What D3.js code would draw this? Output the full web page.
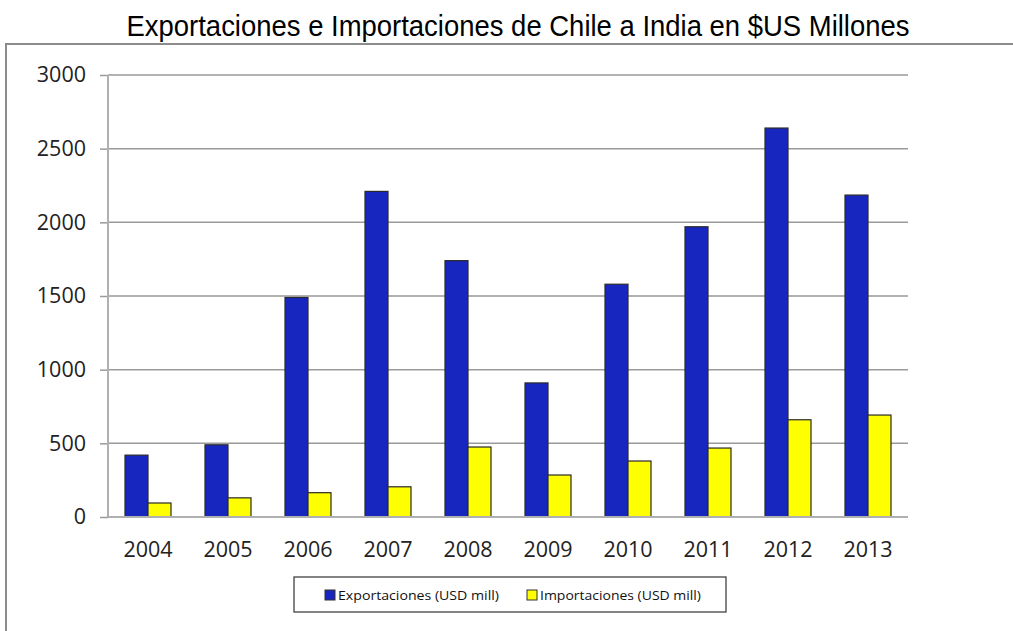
<!DOCTYPE html>
<html>
<head>
<meta charset="utf-8">
<script src="https://cdn.jsdelivr.net/npm/d3@7"></script>
<style>
	body { margin: 0; background: #fff; }
	svg { display: block; }
</style>
</head>
<body>
<svg id="chart" width="1013" height="631"></svg>
<script>

// data
var years = ["2004", "2005", "2006", "2007", "2008", "2009", "2010", "2011", "2012", "2013"];
var exportaciones = [420, 490, 1490, 2210, 1740, 910, 1580, 1970, 2640, 2185];
var importaciones = [95, 130, 165, 205, 475, 285, 380, 468, 660, 692];
var seriesNames = ["Exportaciones (USD mill)", "Importaciones (USD mill)"];
var seriesColours = ["#1726BE", "#FFFF00"];
var yTicks = [0, 500, 1000, 1500, 2000, 2500, 3000];

var svg = d3.select("#chart");

var plotLeft = 108, plotRight = 908, plotTop = 75, plotBottom = 517;

var x = d3.scaleBand()
			.domain(years)
			.range([plotLeft, plotRight]);

var xInner = d3.scaleBand()
			.domain([0, 1])
			.range([0, 46]);

var y = d3.scaleLinear()
			.domain([0, 3000])
			.range([plotBottom, plotTop]);

// outer frame
svg.append("rect")
	.attr("x", 6)
	.attr("y", 44)
	.attr("width", 1013)
	.attr("height", 600)
	.style("fill", "none")
	.style("stroke", "#8c8c8c")
	.style("stroke-width", 2);

// title
svg.append("text")
	.attr("x", 518)
	.attr("y", 36)
	.attr("text-anchor", "middle")
	.attr("textLength", 783)
	.attr("lengthAdjust", "spacingAndGlyphs")
	.style("font-family", "'Liberation Sans Narrow', 'Liberation Sans', Arial, sans-serif")
	.style("font-size", "30px")
	.style("fill", "#000")
	.text("Exportaciones e Importaciones de Chile a India en $US Millones");

// y axis with gridlines
var yAxis = svg.append("g")
				.attr("transform", "translate(" + plotLeft + ",0)")
				.call(d3.axisLeft(y)
						.tickValues(yTicks)
						.tickFormat(d3.format("d"))
						.tickSize(8)
						.tickPadding(14));

yAxis.select(".domain").remove();
yAxis.selectAll("line")
	.style("stroke", "#9a9a9a")
	.style("stroke-width", 1.5);
yAxis.selectAll("text")
	.style("font-family", "'Open Sans', 'DejaVu Sans', sans-serif")
	.style("font-size", "21.5px")
	.style("fill", "#222");

svg.append("g")
	.selectAll("line")
	.data(yTicks.slice(1))
	.enter().append("line")
	.attr("x1", plotLeft)
	.attr("x2", plotRight)
	.attr("y1", function(d) { return y(d); })
	.attr("y2", function(d) { return y(d); })
	.style("stroke", "#9a9a9a")
	.style("stroke-width", 1.5);

svg.append("line")
	.attr("x1", plotLeft)
	.attr("x2", plotLeft)
	.attr("y1", plotTop)
	.attr("y2", plotBottom)
	.style("stroke", "#b0b0b0")
	.style("stroke-width", 2);

// bars
var groups = svg.append("g")
				.selectAll("g")
				.data(years)
				.enter().append("g")
				.attr("transform", function(d) {
					return "translate(" + (x(d) + x.bandwidth() / 2 - 23) + ",0)"; });

groups.selectAll("rect")
	.data(function(d, i) { return [exportaciones[i], importaciones[i]]; })
	.enter().append("rect")
	.attr("x", function(d, i) { return xInner(i); })
	.attr("y", function(d) { return y(d); })
	.attr("width", xInner.bandwidth())
	.attr("height", function(d) { return plotBottom - y(d); })
	.style("fill", function(d, i) { return seriesColours[i]; })
	.style("stroke", "#2a2a2a")
	.style("stroke-width", 1.2);

// x axis
svg.append("line")
	.attr("x1", plotLeft)
	.attr("x2", plotRight)
	.attr("y1", plotBottom)
	.attr("y2", plotBottom)
	.style("stroke", "#b0b0b0")
	.style("stroke-width", 2);

var xAxis = svg.append("g")
				.attr("transform", "translate(0," + plotBottom + ")")
				.call(d3.axisBottom(x).tickSize(0).tickPadding(25));

xAxis.select(".domain").remove();
xAxis.selectAll("text")
	.style("font-family", "'Open Sans', 'DejaVu Sans', sans-serif")
	.style("font-size", "21.5px")
	.style("fill", "#222");

// legend
var legend = svg.append("g");

legend.append("rect")
	.attr("x", 294)
	.attr("y", 577)
	.attr("width", 432)
	.attr("height", 35)
	.style("fill", "#fff")
	.style("stroke", "#333")
	.style("stroke-width", 1.2);

var legendX = [325, 527];

var items = legend.selectAll(".item")
				.data(seriesNames)
				.enter().append("g")
				.attr("class", "item")
				.attr("transform", function(d, i) {
					return "translate(" + legendX[i] + ",590)"; });

items.append("rect")
	.attr("width", 10)
	.attr("height", 10)
	.style("fill", function(d, i) { return seriesColours[i]; })
	.style("stroke", "#333")
	.style("stroke-width", 1);

items.append("text")
	.attr("x", 13)
	.attr("y", 10)
	.attr("textLength", 161)
	.attr("lengthAdjust", "spacingAndGlyphs")
	.style("font-family", "'Open Sans', 'DejaVu Sans', sans-serif")
	.style("font-size", "13.5px")
	.style("fill", "#111")
	.text(function(d) { return d; });

</script>
</body>
</html>
